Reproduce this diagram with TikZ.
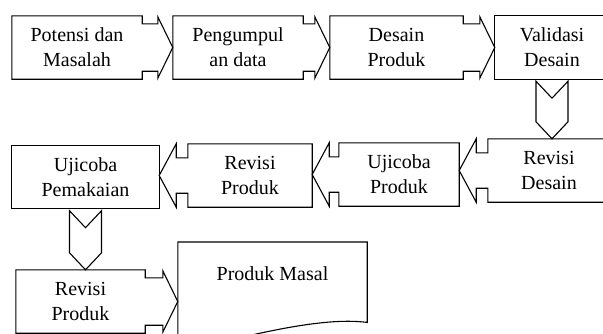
\documentclass[tikz,border=0pt]{standalone}
\usepackage{fontspec}
\setmainfont{Liberation Serif}
\usetikzlibrary{calc}

\tikzset{
  box/.style={minimum width=#1, minimum height=63pt, inner sep=0pt,
    align=center, font=\fontsize{20}{25}\selectfont},
  box/.default=130pt,
  outline/.style={draw=black, line width=1.1pt, line join=miter},
}

% box whose right side runs into a notched arrow up to the next box
\newcommand{\flowright}[2]{%
  \draw[outline] let \p1=(#1.north east), \p2=(#1.south east), \p3=(#1.east -| #2.west) in
    (#1.south west) -- (#1.north west) -- (\p1) -- (\x1,\y1-8pt) -- (\x3-15pt,\y1-8pt)
    -- (\x3-15pt,\y1-1pt) -- (\p3) -- (\x3-15pt,\y2+1pt) -- (\x3-15pt,\y2+8pt)
    -- (\x1,\y2+8pt) -- (\p2) -- cycle;}
% same, pointing left
\newcommand{\flowleft}[2]{%
  \draw[outline] let \p1=(#1.north west), \p2=(#1.south west), \p3=(#1.west -| #2.east) in
    (#1.south east) -- (#1.north east) -- (\p1) -- (\x1,\y1-14pt) -- (\x3+17pt,\y1-14pt)
    -- (\x3+17pt,\y1) -- (\p3) -- (\x3+17pt,\y2) -- (\x3+17pt,\y2+14pt)
    -- (\x1,\y2+14pt) -- (\p2) -- cycle;}
% chevron going down between two boxes
\newcommand{\flowdown}[2]{%
  \draw[outline] let \p1=(#1.south), \p2=(#1.south |- #2.north) in
    (\x1-16pt,\y1-2pt) -- (\x1,\y1-19pt) -- (\x1+16pt,\y1-2pt) -- (\x1+16pt,\y2+17pt)
    -- (\p2) -- (\x1-16pt,\y2+17pt) -- cycle;}

\begin{document}
\begin{tikzpicture}[x=1pt, y=-1pt]
  \useasboundingbox (0,0) rectangle (603,333);
  \clip (0,0) rectangle (603,333);

  \node[box] (potensi) at (77,47.5) {Potensi dan\\Masalah};
  \node[box] (kumpul) at (238,47.5) {Pengumpul\\an data};
  \node[box=133pt] (desain) at (396.5,47.5) {Desain\\Produk};
  \node[box=114pt] (validasi) at (552,47.5) {Validasi\\Desain};

  \node[box=122pt] (revdesain) at (549,170.5) {Revisi\\Desain};
  \node[box=120pt] (ujiproduk) at (399,174.5) {Ujicoba\\Produk};
  \node[box=124pt] (revproduk) at (250,175.5) {Revisi\\Produk};
  \node[box=147pt] (ujipakai) at (85.5,177) {Ujicoba\\Pemakaian};

  \node[box=129pt] (revakhir) at (80.5,301.5) {Revisi\\Produk};
  \node[box=189pt, minimum height=0pt, text height=38pt, text depth=42pt, anchor=north]
    (masal) at (272.5,242) {Produk Masal};

  \begin{scope}
    \flowright{potensi}{kumpul}
    \flowright{kumpul}{desain}
    \flowright{desain}{validasi}
    \draw[outline] (validasi.north west) rectangle (validasi.south east);
    \flowdown{validasi}{revdesain}
    \flowleft{revdesain}{ujiproduk}
    \flowleft{ujiproduk}{revproduk}
    \flowleft{revproduk}{ujipakai}
    \draw[outline] (ujipakai.north west) rectangle (ujipakai.south east);
    \flowdown{ujipakai}{revakhir}
    \flowright{revakhir}{masal}
    \draw[outline] (masal.north west) -- (masal.north east) -- (masal.south east)
      .. controls +(-47,-6) and +(72,-17) .. ($(masal.south west)+(0,30)$) -- cycle;
  \end{scope}
\end{tikzpicture}
\end{document}
